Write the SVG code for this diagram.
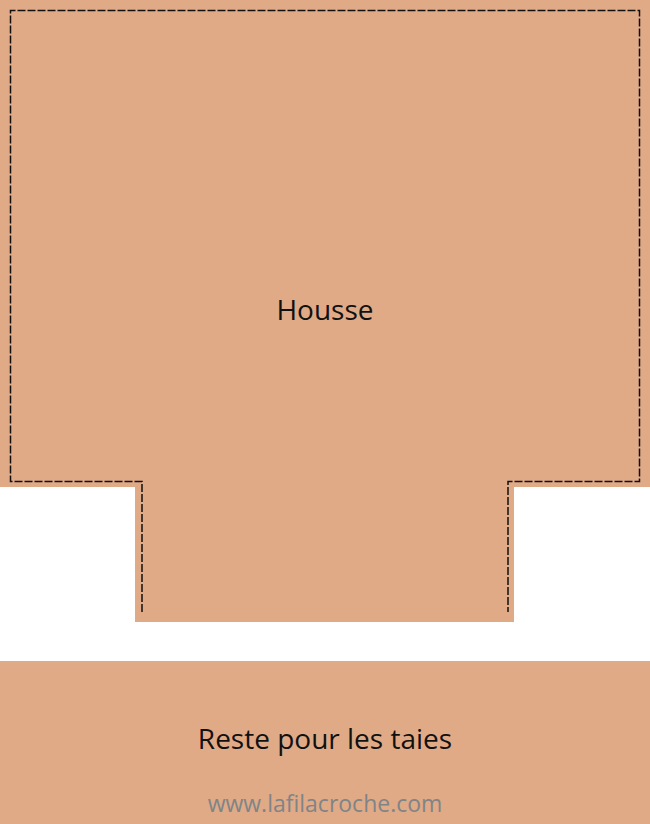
<svg xmlns="http://www.w3.org/2000/svg" width="650" height="824" viewBox="0 0 650 824">
<style>
.piece{fill:#E0AA87;}
.cut{fill:none;stroke:#111;stroke-width:1.5;stroke-dasharray:8 2;}
.lbl{font-family:"Open Sans","DejaVu Sans",sans-serif;font-size:28px;fill:#111;text-anchor:middle;}
.url{font-family:"Open Sans","DejaVu Sans",sans-serif;font-size:23px;fill:#7f8487;text-anchor:middle;}
</style>
<rect width="650" height="824" fill="#fff"/>
<g id="housse">
<path class="piece" d="M0 0H650V487H514V622H135V487H0Z"/>
<path class="cut" d="M142 612V481.5H10.5V10.5H639.5V481.5H508V612"/>
<text class="lbl" x="325" y="320">Housse</text>
</g>
<g id="reste">
<rect class="piece" x="0" y="661" width="650" height="163"/>
<text class="lbl" x="325" y="749">Reste pour les taies</text>
<text class="url" x="325" y="812">www.lafilacroche.com</text>
</g>
</svg>
